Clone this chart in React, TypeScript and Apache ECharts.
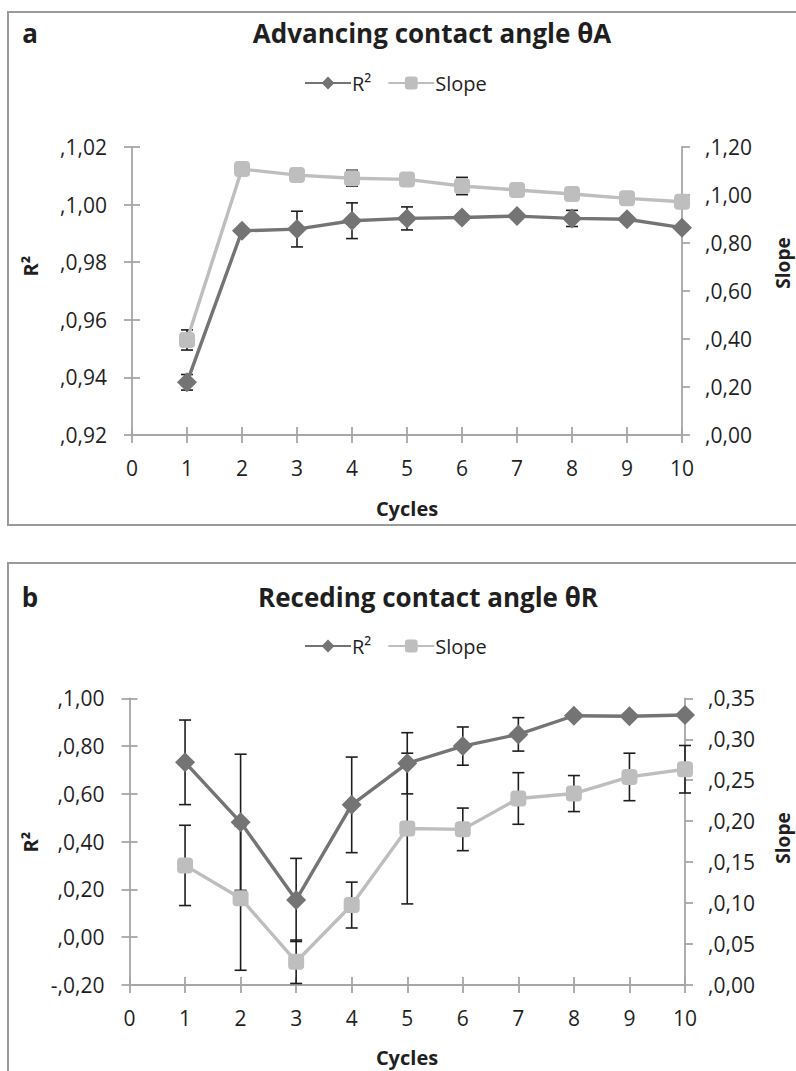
import React, { useEffect, useRef } from "react";
import * as echarts from "echarts";

// ---------- data ----------
const cycles = [1, 2, 3, 4, 5, 6, 7, 8, 9, 10];

// Panel a: advancing contact angle
const aR2 = [0.9383, 0.9909, 0.9915, 0.9944, 0.9952, 0.9955, 0.996, 0.9952, 0.9949, 0.992];
const aR2Err = [0.0027, 0, 0.0062, 0.0062, 0.004, 0, 0, 0.0028, 0, 0];
const aSlope = [0.396, 1.108, 1.083, 1.07, 1.065, 1.0375, 1.021, 1.004, 0.986, 0.972];
const aSlopeErr = [0.042, 0, 0, 0.033, 0, 0.036, 0, 0, 0, 0];

// Panel b: receding contact angle
const bR2 = [0.732, 0.481, 0.156, 0.554, 0.728, 0.8, 0.849, 0.927, 0.925, 0.93];
const bR2Err = [0.177, 0.285, 0.174, 0.2, 0.128, 0.08, 0.07, 0, 0, 0];
const bSlope = [0.146, 0.106, 0.0284, 0.0976, 0.191, 0.19, 0.2277, 0.2337, 0.254, 0.2634];
const bSlopeErr = [0.049, 0.088, 0.0265, 0.028, 0.092, 0.026, 0.0315, 0.022, 0.029, 0.029];

// tick labels
const xTicks = [0, 1, 2, 3, 4, 5, 6, 7, 8, 9, 10];
const xLabels = ["0", "1", "2", "3", "4", "5", "6", "7", "8", "9", "10"];
const aLeftTicks = [0.92, 0.94, 0.96, 0.98, 1.0, 1.02];
const aLeftLabels = [",0,92", ",0,94", ",0,96", ",0,98", ",1,00", ",1,02"];
const aRightTicks = [0, 0.2, 0.4, 0.6, 0.8, 1.0, 1.2];
const aRightLabels = [",0,00", ",0,20", ",0,40", ",0,60", ",0,80", ",1,00", ",1,20"];
const bLeftTicks = [-0.2, 0, 0.2, 0.4, 0.6, 0.8, 1.0];
const bLeftLabels = ["-,0,20", ",0,00", ",0,20", ",0,40", ",0,60", ",0,80", ",1,00"];
const bRightTicks = [0, 0.05, 0.1, 0.15, 0.2, 0.25, 0.3, 0.35];
const bRightLabels = [",0,00", ",0,05", ",0,10", ",0,15", ",0,20", ",0,25", ",0,30", ",0,35"];

const FONT = "'Open Sans', 'Noto Sans', sans-serif";
const R2_COLOR = "#747474";
const SLOPE_COLOR = "#BEBEBE";
const AXIS_COLOR = "#A6A6A6";
const ERR_COLOR = "#1E1E1E";
const TEXT_COLOR = "#1f1f1f";

function fmt(ticks: number[], labels: string[]) {
  return (v: number) => {
    let bi = 0;
    for (let i = 0; i < ticks.length; i++) {
      if (Math.abs(ticks[i] - v) < Math.abs(ticks[bi] - v)) bi = i;
    }
    return labels[bi];
  };
}

function pairs(xs: number[], ys: number[]) {
  return xs.map((x, i) => [x, ys[i]]);
}
function triples(xs: number[], ys: number[], es: number[]) {
  return xs.map((x, i) => [x, ys[i], es[i]]).filter((d) => d[2] > 0);
}

const errRender = (params: any, api: any) => {
  const x = api.value(0);
  const y = api.value(1);
  const e = api.value(2);
  const top = api.coord([x, y + e]);
  const bot = api.coord([x, y - e]);
  const cw = 6;
  const style = { stroke: ERR_COLOR, lineWidth: 1.6 };
  return {
    type: "group",
    children: [
      { type: "line", shape: { x1: top[0], y1: top[1], x2: bot[0], y2: bot[1] }, style },
      { type: "line", shape: { x1: top[0] - cw, y1: top[1], x2: top[0] + cw, y2: top[1] }, style },
      { type: "line", shape: { x1: bot[0] - cw, y1: bot[1], x2: bot[0] + cw, y2: bot[1] }, style },
    ],
  };
};

const tickStyle = { color: AXIS_COLOR, width: 1.8 };

function mainX(gridIndex: number) {
  return {
    type: "value",
    gridIndex,
    position: "bottom",
    min: 0,
    max: 10,
    interval: 1,
    axisLine: { show: true, onZero: false, lineStyle: tickStyle },
    axisTick: { show: true, inside: false, length: 8, lineStyle: tickStyle },
    axisLabel: { margin: 22, fontSize: 21, fontFamily: FONT, color: TEXT_COLOR, formatter: fmt(xTicks, xLabels) },
    splitLine: { show: false },
  };
}
function innerX(gridIndex: number) {
  return {
    type: "value",
    gridIndex,
    min: 0,
    max: 10,
    interval: 1,
    position: "bottom",
    axisLine: { show: false, onZero: false },
    axisTick: { show: true, inside: true, length: 8, lineStyle: tickStyle },
    axisLabel: { show: false },
    splitLine: { show: false },
  };
}
function leftY(gridIndex: number, min: number, max: number, interval: number, ticks: number[], labels: string[]) {
  return {
    type: "value",
    gridIndex,
    position: "left",
    min,
    max,
    interval,
    axisLine: { show: true, onZero: false, lineStyle: tickStyle },
    axisTick: { show: true, inside: false, length: 8, lineStyle: tickStyle },
    axisLabel: { margin: 25, fontSize: 21, fontFamily: FONT, color: TEXT_COLOR, formatter: fmt(ticks, labels) },
    splitLine: { show: false },
  };
}
function leftYInner(gridIndex: number, min: number, max: number, interval: number) {
  return {
    type: "value",
    gridIndex,
    position: "left",
    min,
    max,
    interval,
    axisLine: { show: false, onZero: false },
    axisTick: { show: true, inside: true, length: 8, lineStyle: tickStyle },
    axisLabel: { show: false },
    splitLine: { show: false },
  };
}
function rightY(gridIndex: number, min: number, max: number, interval: number, ticks: number[], labels: string[]) {
  return {
    type: "value",
    gridIndex,
    position: "right",
    min,
    max,
    interval,
    axisLine: { show: true, onZero: false, lineStyle: tickStyle },
    axisTick: { show: true, inside: false, length: 8, lineStyle: tickStyle },
    axisLabel: { margin: 23, fontSize: 21, fontFamily: FONT, color: TEXT_COLOR, formatter: fmt(ticks, labels) },
    splitLine: { show: false },
  };
}

function lineSeries(name: string, xAxisIndex: number, yAxisIndex: number, data: number[][], isR2: boolean) {
  const c = isR2 ? R2_COLOR : SLOPE_COLOR;
  return {
    type: "line",
    name,
    xAxisIndex,
    yAxisIndex,
    data,
    z: 3,
    symbol: isR2 ? "diamond" : "roundRect",
    symbolSize: isR2 ? 20 : 16,
    showSymbol: true,
    itemStyle: { color: c },
    lineStyle: { color: c, width: 3.4 },
    emphasis: { disabled: true },
  };
}
function errSeries(xAxisIndex: number, yAxisIndex: number, data: number[][]) {
  return {
    type: "custom",
    xAxisIndex,
    yAxisIndex,
    data,
    z: 1,
    renderItem: errRender,
    silent: true,
  };
}

function legend(top: number) {
  return {
    data: ["R²", "Slope"],
    left: 299,
    top,
    itemWidth: 46,
    itemHeight: 16,
    itemGap: 16,
    textStyle: { fontSize: 20, fontFamily: FONT, color: TEXT_COLOR, padding: [0, 0, 0, -4] },
    selectedMode: false,
  };
}

function txt(x: number, y: number, text: string, size: number, bold: boolean, rotation = 0) {
  return {
    type: "text",
    x,
    y,
    rotation,
    style: {
      text,
      fontSize: size,
      fontWeight: bold ? "bold" : "normal",
      fontFamily: FONT,
      fill: TEXT_COLOR,
      textAlign: "center",
      textVerticalAlign: "middle",
    },
    silent: true,
  };
}

export default function App() {
  const ref = useRef<HTMLDivElement>(null);
  useEffect(() => {
    if (!ref.current) return;
    const chart = echarts.init(ref.current, undefined, { renderer: "svg" });
    const option: any = {
      animation: false,
      backgroundColor: "#ffffff",
      grid: [
        { left: 132, width: 550, top: 147, height: 288 },
        { left: 129.5, width: 555.5, top: 698.3, height: 286.7 },
      ],
      xAxis: [mainX(0), innerX(0), mainX(1), innerX(1)],
      yAxis: [
        leftY(0, 0.92, 1.02, 0.02, aLeftTicks, aLeftLabels),
        leftYInner(0, 0.92, 1.02, 0.02),
        rightY(0, 0, 1.2, 0.2, aRightTicks, aRightLabels),
        leftY(1, -0.2, 1.0, 0.2, bLeftTicks, bLeftLabels),
        leftYInner(1, -0.2, 1.0, 0.2),
        rightY(1, 0, 0.35, 0.05, bRightTicks, bRightLabels),
      ],
      legend: [legend(68), legend(631)],
      series: [
        errSeries(0, 0, triples(cycles, aR2, aR2Err)),
        errSeries(0, 2, triples(cycles, aSlope, aSlopeErr)),
        lineSeries("R²", 0, 0, pairs(cycles, aR2), true),
        lineSeries("Slope", 0, 2, pairs(cycles, aSlope), false),
        errSeries(2, 3, triples(cycles, bR2, bR2Err)),
        errSeries(2, 5, triples(cycles, bSlope, bSlopeErr)),
        lineSeries("R²", 2, 3, pairs(cycles, bR2), true),
        lineSeries("Slope", 2, 5, pairs(cycles, bSlope), false),
      ],
      graphic: [
        {
          type: "rect",
          shape: { x: 8, y: 12, width: 820, height: 513 },
          style: { fill: "none", stroke: "#9A9A9A", lineWidth: 2 },
          silent: true,
          z: -1,
        },
        {
          type: "rect",
          shape: { x: 8, y: 563, width: 820, height: 540 },
          style: { fill: "none", stroke: "#9A9A9A", lineWidth: 2 },
          silent: true,
          z: -1,
        },
        txt(30, 33, "a", 26, true),
        txt(432, 33, "Advancing contact angle θA", 26, true),
        txt(30, 266, "R²", 20, true, Math.PI / 2),
        txt(783, 263, "Slope", 19, true, Math.PI / 2),
        txt(407, 508, "Cycles", 20, true),
        txt(30, 597, "b", 26, true),
        txt(428, 597, "Receding contact angle θR", 26, true),
        txt(30, 842, "R²", 20, true, Math.PI / 2),
        txt(783, 838, "Slope", 19, true, Math.PI / 2),
        txt(407, 1057, "Cycles", 20, true),
      ],
    };
    chart.setOption(option);
    return () => chart.dispose();
  }, []);
  return (
    <div
      ref={ref}
      style={{ position: "absolute", left: 0, top: 0, width: 796, height: 1071, overflow: "hidden" }}
    />
  );
}
